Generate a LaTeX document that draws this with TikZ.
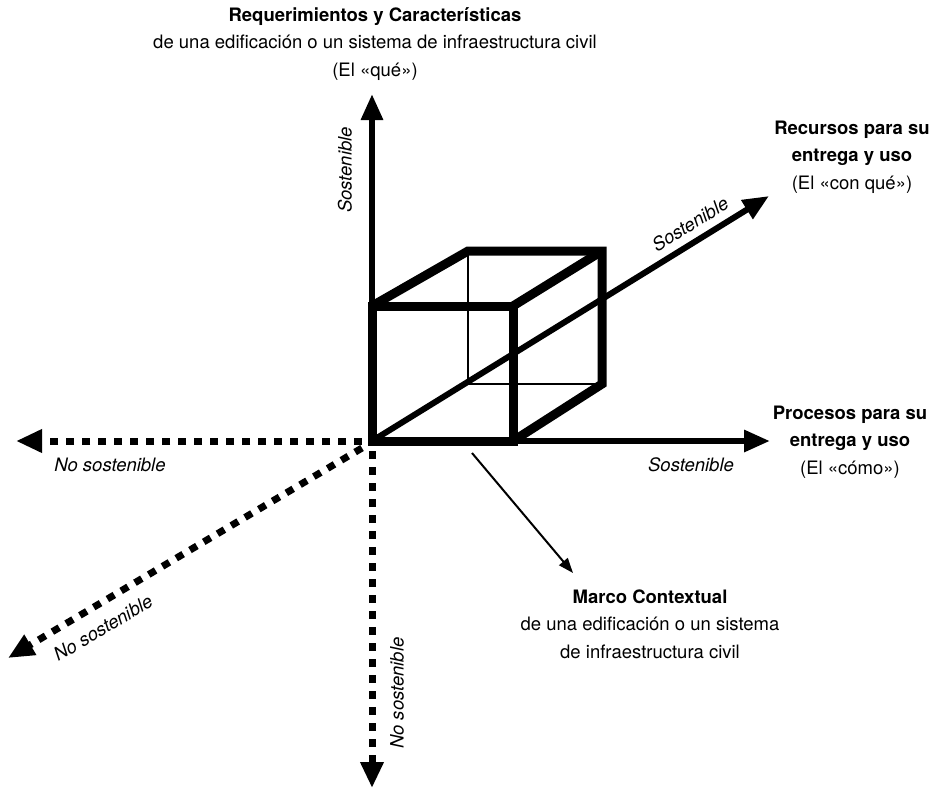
\documentclass[tikz,border=0pt]{standalone}
\usepackage{fontspec}
\setmainfont{TeX Gyre Heros}
\usetikzlibrary{arrows.meta}

\newcommand{\txtsize}{\fontsize{18.5}{27.5}\selectfont}

\tikzset{
  axis/.style={line width=6pt, -{Triangle[length=26pt,width=21pt]}},
  noaxis/.style={line width=7pt, dash pattern=on 8pt off 8pt, -{Triangle[length=26pt,width=22pt]}},
  edge/.style={line width=9pt, line join=miter},
  hidden/.style={line width=1.8pt},
  tag/.style={font=\txtsize\itshape, inner sep=0pt},
  title/.style={font=\txtsize, align=center, inner sep=0pt}
}

\begin{document}
\begin{tikzpicture}[x=1pt, y=-1pt]
  \useasboundingbox (0,0) rectangle (952,788);

  % Origen y extremos de los ejes
  \coordinate (O) at (372,441);
  \coordinate (up) at (372,94);
  \coordinate (right) at (770,441);
  \coordinate (diag) at (769,196);
  \coordinate (o2) at (362,441);
  \coordinate (o3) at (362,448);
  \coordinate (o4) at (372,451);
  \coordinate (left) at (16,441);
  \coordinate (lowleft) at (8,658);
  \coordinate (down) at (372,788);

  % Ejes sostenibles
  \draw[axis] (O) -- (up);
  \draw[axis] (O) -- (right);
  \draw[axis] (O) -- (diag);

  % Ejes no sostenibles
  \draw[noaxis] (o2) -- (left);
  \draw[noaxis] (o3) -- (lowleft);
  \draw[noaxis] (o4) -- (down);

  % Cubo
  \draw[hidden] (468,251) -- (468,384) -- (602,384);
  \draw[edge] (372,306) rectangle (513,441);
  \draw[edge] (372,306) -- (468,251) -- (602,251) -- (602,384) -- (513,441);
  \draw[edge] (602,251) -- (513,306);

  % Marco contextual
  \node[title] (marco) at (650,624) {\textbf{Marco Contextual}\\de una edificación o un sistema\\de infraestructura civil};
  \coordinate (mstart) at (472,453);
  \coordinate (mend) at (573,573);
  \draw[line width=2pt, -{Triangle[length=15pt,width=11pt]}] (mstart) -- (mend);

  % Rótulos de los ejes
  \node[title] (req) at (375,44) {\textbf{Requerimientos y Características}\\de una edificación o un sistema de infraestructura civil\\(El «qué»)};
  \node[title] (rec) at (852,157) {\textbf{Recursos para su}\\\textbf{entrega y uso}\\(El «con qué»)};
  \node[title] (proc) at (850,442) {\textbf{Procesos para su}\\\textbf{entrega y uso}\\(El «cómo»)};

  \node[tag, rotate=90] (s1) at (345,170) {Sostenible};
  \node[tag, rotate=31.6] (s2) at (690,224) {Sostenible};
  \node[tag] (s3) at (691,465) {Sostenible};
  \node[tag] (n1) at (110,465) {No sostenible};
  \node[tag, rotate=30.5] (n2) at (103,628) {No sostenible};
  \node[tag, rotate=90] (n3) at (397,693) {No sostenible};
\end{tikzpicture}
\end{document}
